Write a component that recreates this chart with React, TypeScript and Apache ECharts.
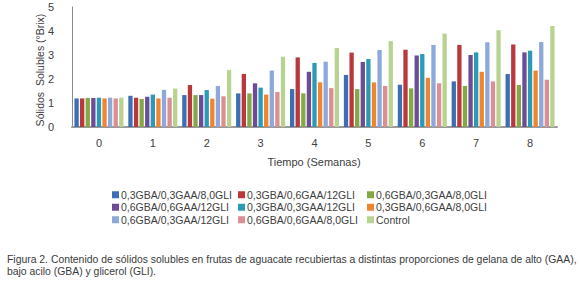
import React, { useEffect, useRef } from "react";
import * as echarts from "echarts";

const categories = ["0", "1", "2", "3", "4", "5", "6", "7", "8"];

const seriesNames = [
  "0,3GBA/0,3GAA/8,0GLI",
  "0,3GBA/0,6GAA/12GLI",
  "0,6GBA/0,3GAA/8,0GLI",
  "0,6GBA/0,6GAA/12GLI",
  "0,3GBA/0,3GAA/12GLI",
  "0,3GBA/0,6GAA/8,0GLI",
  "0,6GBA/0,3GAA/12GLI",
  "0,6GBA/0,6GAA/8,0GLI",
  "Control",
];

const s0 = [1.19, 1.3, 1.33, 1.4, 1.58, 2.17, 1.76, 1.9, 2.21];
const s1 = [1.19, 1.22, 1.75, 2.21, 2.9, 3.1, 3.22, 3.42, 3.44];
const s2 = [1.21, 1.17, 1.33, 1.4, 1.4, 1.58, 1.61, 1.71, 1.75];
const s3 = [1.21, 1.26, 1.33, 1.82, 2.3, 2.71, 2.98, 3.0, 3.11];
const s4 = [1.22, 1.35, 1.54, 1.64, 2.67, 2.83, 3.04, 3.11, 3.18];
const s5 = [1.19, 1.19, 1.18, 1.35, 1.86, 1.86, 2.05, 2.3, 2.35];
const s6 = [1.22, 1.55, 1.71, 2.35, 2.72, 3.21, 3.42, 3.53, 3.54];
const s7 = [1.19, 1.22, 1.28, 1.46, 1.62, 1.71, 1.82, 1.9, 1.97];
const s8 = [1.22, 1.6, 2.37, 2.93, 3.29, 3.58, 3.89, 4.03, 4.21];

const seriesValues = [s0, s1, s2, s3, s4, s5, s6, s7, s8];

const colors = [
  "#3C6EB4",
  "#B8383D",
  "#84A843",
  "#6C4C96",
  "#2C9AB7",
  "#EE8530",
  "#8DA9DA",
  "#DB8F93",
  "#B7D38F",
];

const yAxisTitle = "Sólidos  Solubles (°Brix)";
const xAxisTitle = "Tiempo (Semanas)";
const captionLine1 =
  "Figura 2. Contenido de sólidos solubles en frutas de aguacate recubiertas a distintas proporciones de gelana de alto (GAA),";
const captionLine2 = "bajo acilo (GBA) y glicerol (GLI).";

const FONT = "'Liberation Sans', Arial, sans-serif";
const TEXT = "#404040";

export default function App() {
  const ref = useRef<HTMLDivElement>(null);

  useEffect(() => {
    if (!ref.current) return;
    const chart = echarts.init(ref.current, null, { renderer: "svg" });

    const legendCol = (items: string[], left: number) => ({
      orient: "vertical",
      left,
      top: 188.5,
      padding: 0,
      itemGap: 0,
      itemWidth: 7,
      itemHeight: 7,
      icon: "rect",
      data: items,
      textStyle: {
        fontFamily: FONT,
        fontSize: 10.5,
        color: TEXT,
        lineHeight: 12.5,
        padding: [0, 0, 0, -3],
      },
    });

    chart.setOption({
      animation: false,
      backgroundColor: "#ffffff",
      color: colors,
      textStyle: { fontFamily: FONT },
      grid: { left: 72, right: 23, top: 7, bottom: 155, containLabel: false },
      legend: [
        legendCol([seriesNames[0], seriesNames[3], seriesNames[6]], 112),
        legendCol([seriesNames[1], seriesNames[4], seriesNames[7]], 238),
        legendCol([seriesNames[2], seriesNames[5], seriesNames[8]], 367),
      ],
      xAxis: {
        type: "category",
        data: categories,
        axisLine: { show: true, lineStyle: { color: "#9a9a9a", width: 2 } },
        axisTick: { show: false },
        axisLabel: { color: TEXT, fontSize: 11, margin: 10, fontFamily: FONT },
        splitLine: { show: false },
      },
      yAxis: {
        type: "value",
        min: 0,
        max: 5,
        interval: 1,
        axisLine: { show: true, lineStyle: { color: "#8a8a8a", width: 1 } },
        axisTick: { show: false },
        axisLabel: { color: TEXT, fontSize: 11, margin: 18, fontFamily: FONT },
        splitLine: { show: false },
      },
      graphic: [
        {
          type: "text",
          x: 40,
          y: 70,
          rotation: Math.PI / 2,
          style: {
            text: yAxisTitle,
            fontFamily: FONT,
            fontSize: 10.5,
            fill: TEXT,
            align: "center",
            verticalAlign: "middle",
          },
        },
        {
          type: "text",
          x: 314,
          y: 162,
          style: {
            text: xAxisTitle,
            fontFamily: FONT,
            fontSize: 11,
            fill: TEXT,
            align: "center",
            verticalAlign: "middle",
          },
        },
        {
          type: "text",
          x: 7,
          y: 259,
          style: {
            text: captionLine1,
            fontFamily: FONT,
            fontSize: 10.4,
            fill: "#3a3a3a",
            align: "left",
            verticalAlign: "middle",
          },
        },
        {
          type: "text",
          x: 7,
          y: 271,
          style: {
            text: captionLine2,
            fontFamily: FONT,
            fontSize: 10.4,
            fill: "#3a3a3a",
            align: "left",
            verticalAlign: "middle",
          },
        },
      ],
      series: seriesNames.map((name, i) => ({
        name,
        type: "bar",
        data: seriesValues[i],
        barGap: "30%",
        barCategoryGap: "9%",
        itemStyle: { color: colors[i] },
      })),
    });

    return () => chart.dispose();
  }, []);

  return (
    <div
      ref={ref}
      style={{
        position: "fixed",
        left: 0,
        top: 0,
        width: 580,
        height: 282,
        background: "#fff",
      }}
    />
  );
}
